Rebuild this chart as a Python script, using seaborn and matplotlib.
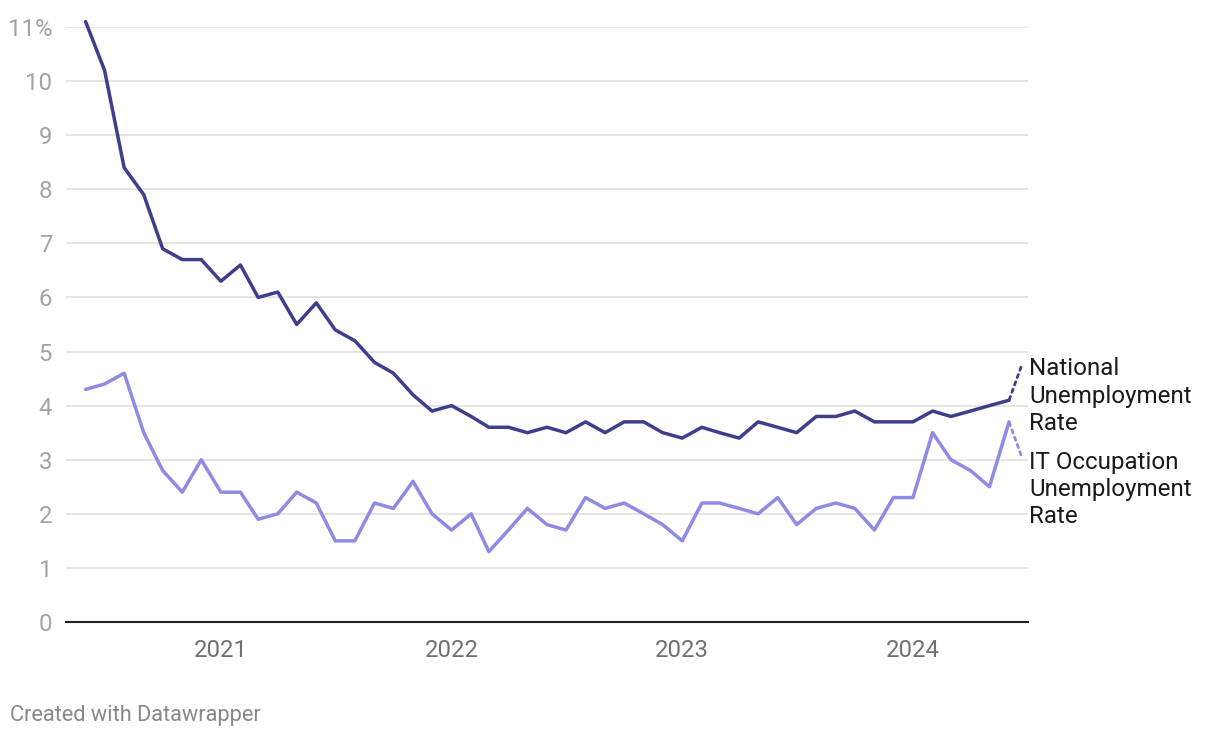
import matplotlib
matplotlib.use('Agg')
import matplotlib.pyplot as plt
import matplotlib.dates as mdates
import pandas as pd
import seaborn as sns

# monthly, June 2020 .. June 2024
months = pd.date_range('2020-06-01', periods=49, freq='MS')
national_rate = [11.1, 10.2, 8.4, 7.9, 6.9, 6.7, 6.7,
                 6.3, 6.6, 6.0, 6.1, 5.5, 5.9, 5.4, 5.2, 4.8, 4.6, 4.2, 3.9,
                 4.0, 3.8, 3.6, 3.6, 3.5, 3.6, 3.5, 3.7, 3.5, 3.7, 3.7, 3.5,
                 3.4, 3.6, 3.5, 3.4, 3.7, 3.6, 3.5, 3.8, 3.8, 3.9, 3.7, 3.7,
                 3.7, 3.9, 3.8, 3.9, 4.0, 4.1]
it_rate = [4.3, 4.4, 4.6, 3.5, 2.8, 2.4, 3.0,
           2.4, 2.4, 1.9, 2.0, 2.4, 2.2, 1.5, 1.5, 2.2, 2.1, 2.6, 2.0,
           1.7, 2.0, 1.3, 1.7, 2.1, 1.8, 1.7, 2.3, 2.1, 2.2, 2.0, 1.8,
           1.5, 2.2, 2.2, 2.1, 2.0, 2.3, 1.8, 2.1, 2.2, 2.1, 1.7, 2.3,
           2.3, 3.5, 3.0, 2.8, 2.5, 3.7]
series_names = ['National\nUnemployment\nRate', 'IT Occupation\nUnemployment\nRate']
series_colors = ['#3f3e8c', '#8f8ae3']
y_ticks = list(range(0, 12))
y_tick_labels = [str(v) for v in y_ticks[:-1]] + ['11%']

sns.set_style('white')
plt.rcParams['font.family'] = ['Roboto', 'DejaVu Sans']

fig = plt.figure(figsize=(12.2, 7.38), dpi=100)
ax = fig.add_axes([66 / 1220, 1 - 622 / 738, (1028 - 66) / 1220, (622 - 27) / 738])

df = pd.DataFrame({'month': list(months) * 2,
                   'rate': national_rate + it_rate,
                   'series': [series_names[0]] * len(months) + [series_names[1]] * len(months)})
sns.lineplot(data=df, x='month', y='rate', hue='series', palette=series_colors,
             linewidth=2.5, ax=ax, legend=False, clip_on=False)

ax.set_ylim(0, 11)
ax.set_xlim(pd.Timestamp('2020-05-01'), pd.Timestamp('2024-07-01'))
ax.set_yticks(y_ticks)
ax.set_yticklabels(y_tick_labels)
ax.xaxis.set_major_locator(mdates.YearLocator())
ax.xaxis.set_major_formatter(mdates.DateFormatter('%Y'))
ax.set_xlabel('')
ax.set_ylabel('')

ax.grid(axis='y', color='#e3e3e3', linewidth=1.3)
ax.set_axisbelow(True)
for s in ['top', 'right', 'left']:
    ax.spines[s].set_visible(False)
ax.spines['bottom'].set_color('#222222')
ax.spines['bottom'].set_linewidth(1.5)
ax.spines['bottom'].set_zorder(3)
ax.tick_params(axis='both', length=0, labelsize=17.2)
ax.tick_params(axis='y', colors='#a3a3a3', pad=10)
ax.tick_params(axis='x', colors='#707070', pad=12)

# end labels with dotted connectors
last = months[-1]
conn_offsets = [(8.6, 23.8), (8.6, -23.8)]
label_offsets = [(14.4, 3.0), (14.4, -48.5)]
for vals, name, col, (dx, dy), (lx, ly) in zip([national_rate, it_rate], series_names, series_colors,
                                               conn_offsets, label_offsets):
    ax.annotate('', xy=(last, vals[-1]), xytext=(dx, dy), textcoords='offset points',
                arrowprops=dict(arrowstyle='-', color=col, linestyle=(0, (1.2, 1.6)),
                                linewidth=2, shrinkA=0, shrinkB=0))
    ax.annotate(name, xy=(last, vals[-1]), xytext=(lx, ly), textcoords='offset points',
                ha='left', va='center', fontsize=17.4, color='#1a1a1a', linespacing=1.23)

fig.text(10 / 1220, 1 - 715 / 738, 'Created with Datawrapper', fontsize=15.7, color='#888888',
         ha='left', va='center')

fig.savefig('out.png', dpi=100, facecolor='white')
